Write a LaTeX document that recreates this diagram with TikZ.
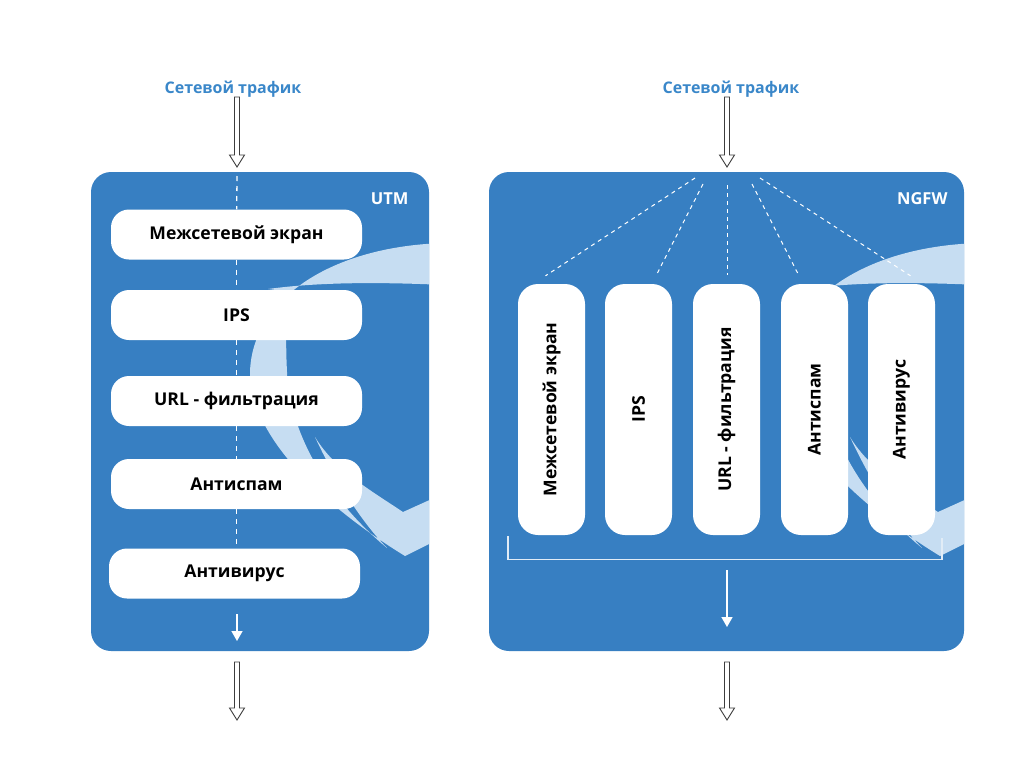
\documentclass[tikz,border=0pt]{standalone}
\usepackage{fontspec}
\setmainfont{Open Sans}
\usetikzlibrary{arrows.meta,calc,positioning}

\definecolor{panelblue}{HTML}{377FC2}
\definecolor{swooshblue}{HTML}{C6DDF2}
\definecolor{textblue}{HTML}{3A87C9}
\definecolor{arrowgray}{HTML}{3C3C3C}

\tikzset{
  panel/.style={fill=panelblue, rounded corners=20pt, inner sep=0pt},
  module/.style={fill=white, rounded corners=18pt, minimum width=251pt, minimum height=50pt,
    inner sep=0pt, font=\fontsize{17.6}{20}\selectfont\bfseries},
  vmodule/.style={module, rotate=90, minimum height=67pt, rounded corners=20pt},
  trafic/.style={text=textblue, font=\fontsize{16}{19}\selectfont\bfseries},
  tag/.style={text=white, anchor=east, font=\fontsize{16.5}{18}\selectfont\bfseries},
  flow/.style={white, line width=1.3pt, dash pattern=on 5pt off 5pt},
  fan/.style={white, line width=1pt, dash pattern=on 4pt off 4pt},
  hollow/.style={draw=arrowgray, fill=white, line width=0.9pt, line join=miter},
  outflow/.style={white, line width=1.5pt, -{Triangle[width=11pt,length=10pt]}},
  bracket/.style={draw=white!85!panelblue, line width=1.2pt}
}

% hollow arrow from #1 down to the tip #2
\newcommand{\hollowarrow}[2]{%
  \draw[hollow] ($(#1)+(-2.5,0)$) -- ($(#2)+(-2.5,-12)$) -- ($(#2)+(-7.5,-12)$) -- (#2)
    -- ($(#2)+(7.5,-12)$) -- ($(#2)+(2.5,-12)$) -- ($(#1)+(2.5,0)$) -- cycle;}

% light swoosh behind the modules
\newcommand{\swoosh}{%
  \fill[swooshblue] (445,243)
    .. controls (330,246) and (252,300) .. (250,372)
    .. controls (250,440) and (330,510) .. (405,556)
    -- (445,536) -- (445,493) -- (403,512)
    .. controls (370,490) and (335,470) .. (315,437)
    .. controls (335,480) and (360,520) .. (387,548)
    .. controls (335,505) and (290,440) .. (287,372)
    .. controls (285,330) and (286,300) .. (300,293)
    -- (268,289)
    .. controls (320,282) and (380,282) .. (445,285)
    -- cycle;}

\begin{document}
\begin{tikzpicture}[x=1pt,y=-1pt]
\useasboundingbox (0,0) rectangle (1024,779);

% panels
\node[panel, minimum width=338pt, minimum height=479pt] (utm) at (260,411.5) {};
\node[panel, minimum width=475pt, minimum height=479pt] (ngfw) at (726.5,411.5) {};

\begin{scope}
\clip[rounded corners=20pt] (utm.south west) rectangle (utm.north east);
\swoosh
\end{scope}
\begin{scope}
\clip[rounded corners=20pt] (ngfw.south west) rectangle (ngfw.north east);
\begin{scope}[xshift=535pt]
\swoosh
\end{scope}
\end{scope}

\node[tag] (utmtag) at (412,199) {UTM};
\node[tag] (ngfwtag) at (951,199) {NGFW};

% UTM
\node[trafic] (in1) at (233,89) {Сетевой трафик};
\node[module] (fw1) at (236.5,234.5) {Межсетевой экран};
\node[module] (ips1) at (236.5,315) {IPS};
\node[module] (url1) at (236.5,401) {URL - фильтрация};
\node[module] (as1) at (236.5,484) {Антиспам};
\node[module] (av1) at (234.5,573.5) {Антивирус};

\coordinate (utmtop) at (237,176);
\draw[flow] (utmtop) -- (fw1);
\draw[flow] (fw1) -- (ips1);
\draw[flow] (ips1) -- (url1);
\draw[flow] (url1) -- (as1);
\draw[flow] (as1.south) -- (as1.south |- av1.north);

\coordinate (utmout) at (237,614);
\coordinate (utmend) at (237,641);
\draw[outflow] (utmout) -- (utmend);

\coordinate (in1a) at (237,97);
\coordinate (in1b) at (237,167);
\hollowarrow{in1a}{in1b}
\coordinate (out1a) at (237,662);
\coordinate (out1b) at (237,720);
\hollowarrow{out1a}{out1b}

% NGFW
\node[trafic] (in2) at (731,89) {Сетевой трафик};
\node[vmodule] (fw2) at (551.5,409.5) {Межсетевой экран};
\node[vmodule] (ips2) at (638.5,409.5) {IPS};
\node[vmodule] (url2) at (726.5,409.5) {URL - фильтрация};
\node[vmodule] (as2) at (814.5,409.5) {Антиспам};
\node[vmodule] (av2) at (901.5,409.5) {Антивирус};

\coordinate (f1) at (695,178);
\coordinate (f2) at (703,184);
\coordinate (f3) at (727,185);
\coordinate (f4) at (752,184);
\coordinate (f5) at (760,178);
\draw[fan] (f1) -- ($(fw2.east)+(-6,-8)$);
\draw[fan] (f2) -- ($(ips2.east)+(18,-9)$);
\draw[fan] (f3) -- ($(url2.east)+(0.5,-9)$);
\draw[fan] (f4) -- ($(as2.east)+(-16,-9)$);
\draw[fan] (f5) -- ($(av2.east)+(9,-8)$);

\draw[bracket] ($(fw2.west)+(-43.5,1)$) |- ($(av2.west)+(40.5,24)$) -- ($(av2.west)+(40.5,3)$);

\coordinate (ngfwout) at (727,570);
\coordinate (ngfwend) at (727,627);
\draw[outflow] (ngfwout) -- (ngfwend);

\coordinate (in2a) at (727,97);
\coordinate (in2b) at (727,167);
\hollowarrow{in2a}{in2b}
\coordinate (out2a) at (727,662);
\coordinate (out2b) at (727,720);
\hollowarrow{out2a}{out2b}
\end{tikzpicture}
\end{document}
